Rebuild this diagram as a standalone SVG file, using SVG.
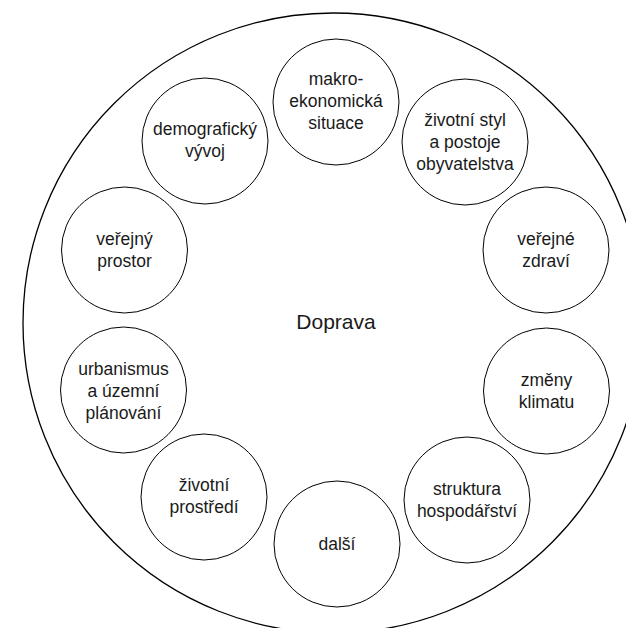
<svg xmlns="http://www.w3.org/2000/svg" width="626" height="628" viewBox="0 0 626 628">
<style>
.big{fill:#fff;stroke:#000;stroke-width:1.3}
.n{fill:#fff;stroke:#000;stroke-width:1}
text{font-family:"Liberation Sans",Arial,sans-serif;font-size:17.5px;fill:#1a1a1a;text-anchor:middle}
.main{font-size:21px}
</style>
<rect width="626" height="628" fill="#fff"/>
<g id="frame"><circle class="big" cx="333" cy="323" r="310"/></g>
<g id="center"><text class="main" x="336" y="329">Doprava</text></g>
<g id="connectors"></g>
<g id="n1"><circle class="n" cx="336" cy="102" r="63"/><text x="336" y="85">makro-</text><text x="336" y="107">ekonomická</text><text x="336" y="129">situace</text></g>
<g id="n2"><circle class="n" cx="205" cy="141" r="63"/><text x="205" y="135">demografický</text><text x="205" y="157">vývoj</text></g>
<g id="n3"><circle class="n" cx="465" cy="142" r="63"/><text x="465" y="126">životní styl</text><text x="465" y="148">a postoje</text><text x="465" y="170">obyvatelstva</text></g>
<g id="n4"><circle class="n" cx="124.5" cy="250" r="63"/><text x="124.5" y="245">veřejný</text><text x="124.5" y="267">prostor</text></g>
<g id="n5"><circle class="n" cx="546" cy="250" r="63"/><text x="546" y="245">veřejné</text><text x="546" y="267">zdraví</text></g>
<g id="n6"><circle class="n" cx="123.5" cy="390" r="63"/><text x="123.5" y="375">urbanismus</text><text x="123.5" y="397">a územní</text><text x="123.5" y="419">plánování</text></g>
<g id="n7"><circle class="n" cx="546.5" cy="391" r="63"/><text x="546.5" y="386">změny</text><text x="546.5" y="408">klimatu</text></g>
<g id="n8"><circle class="n" cx="204" cy="497" r="63"/><text x="204" y="491">životní</text><text x="204" y="513">prostředí</text></g>
<g id="n9"><circle class="n" cx="467" cy="500" r="63"/><text x="467" y="495">struktura</text><text x="467" y="517">hospodářství</text></g>
<g id="n10"><circle class="n" cx="337" cy="544" r="63"/><text x="337" y="550">další</text></g>
</svg>
